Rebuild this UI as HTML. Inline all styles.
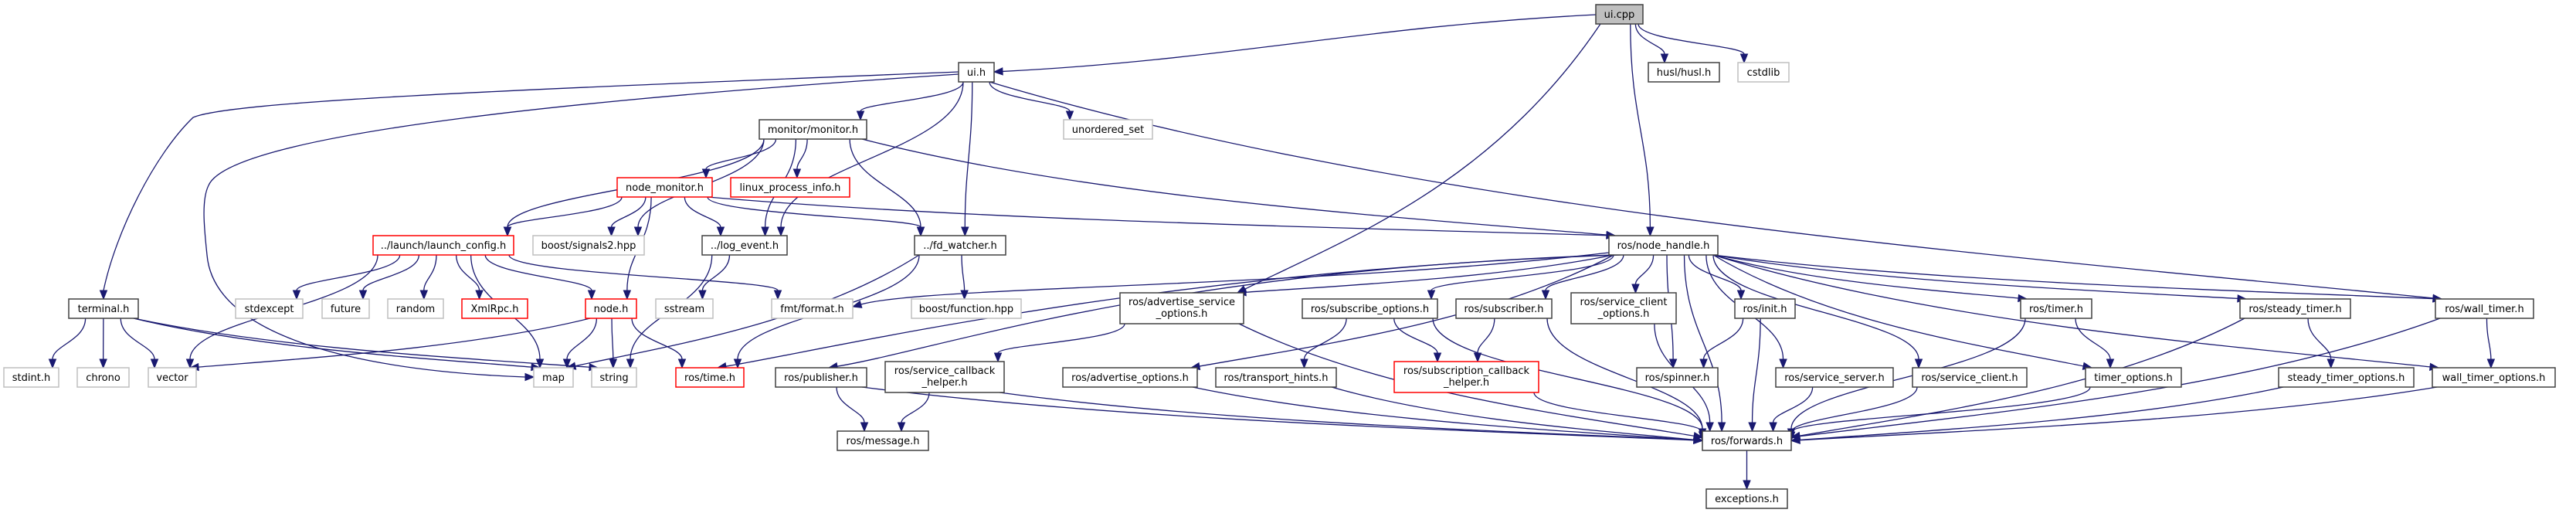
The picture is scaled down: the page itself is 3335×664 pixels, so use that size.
<!DOCTYPE html>
<html><head><meta charset="utf-8"><style>
html,body{margin:0;padding:0;background:#fff;}
svg{display:block;}
text{font-family:"DejaVu Sans","Liberation Sans",sans-serif;font-size:13px;fill:#000;text-anchor:middle;}
</style></head><body>
<svg id="g" width="3335" height="664" viewBox="0 0 3335 664" xmlns="http://www.w3.org/2000/svg">
<g id="edges" fill="none" stroke="#191970" stroke-width="1.3"></g>
<g id="heads" fill="#191970" stroke="#191970"></g>
<g id="nodes" stroke-width="1.5">
<rect x="2066" y="6" width="61" height="25" fill="#bfbfbf" stroke="#404040"/><text x="2096.5" y="23">ui.cpp</text>
<rect x="1241" y="81" width="46" height="25" fill="#fff" stroke="#404040"/><text x="1264" y="98">ui.h</text>
<rect x="2134" y="81" width="92" height="25" fill="#fff" stroke="#404040"/><text x="2180" y="98">husl/husl.h</text>
<rect x="2250" y="81" width="66" height="25" fill="#fff" stroke="#bfbfbf"/><text x="2283" y="98">cstdlib</text>
<rect x="983" y="155" width="139" height="25" fill="#fff" stroke="#404040"/><text x="1052.5" y="172">monitor/monitor.h</text>
<rect x="1377" y="155" width="115" height="25" fill="#fff" stroke="#bfbfbf"/><text x="1434.5" y="172">unordered_set</text>
<rect x="799" y="230" width="123" height="25" fill="#fff" stroke="#ff0000"/><text x="860.5" y="247">node_monitor.h</text>
<rect x="946" y="230" width="154" height="25" fill="#fff" stroke="#ff0000"/><text x="1023" y="247">linux_process_info.h</text>
<rect x="483" y="305" width="182" height="25" fill="#fff" stroke="#ff0000"/><text x="574" y="322">../launch/launch_config.h</text>
<rect x="690" y="305" width="144" height="25" fill="#fff" stroke="#bfbfbf"/><text x="762" y="322">boost/signals2.hpp</text>
<rect x="909" y="305" width="110" height="25" fill="#fff" stroke="#404040"/><text x="964" y="322">../log_event.h</text>
<rect x="1184" y="305" width="118" height="25" fill="#fff" stroke="#404040"/><text x="1243" y="322">../fd_watcher.h</text>
<rect x="2083" y="305" width="141" height="25" fill="#fff" stroke="#404040"/><text x="2153.5" y="322">ros/node_handle.h</text>
<rect x="89" y="387" width="90" height="25" fill="#fff" stroke="#404040"/><text x="134" y="404">terminal.h</text>
<rect x="305" y="387" width="87" height="25" fill="#fff" stroke="#bfbfbf"/><text x="348.5" y="404">stdexcept</text>
<rect x="417" y="387" width="61" height="25" fill="#fff" stroke="#bfbfbf"/><text x="447.5" y="404">future</text>
<rect x="502" y="387" width="72" height="25" fill="#fff" stroke="#bfbfbf"/><text x="538" y="404">random</text>
<rect x="598" y="387" width="85" height="25" fill="#fff" stroke="#ff0000"/><text x="640.5" y="404">XmlRpc.h</text>
<rect x="758" y="387" width="66" height="25" fill="#fff" stroke="#ff0000"/><text x="791" y="404">node.h</text>
<rect x="849" y="387" width="74" height="25" fill="#fff" stroke="#bfbfbf"/><text x="886" y="404">sstream</text>
<rect x="999" y="387" width="105" height="25" fill="#fff" stroke="#bfbfbf"/><text x="1051.5" y="404">fmt/format.h</text>
<rect x="1180" y="387" width="142" height="25" fill="#fff" stroke="#bfbfbf"/><text x="1251" y="404">boost/function.hpp</text>
<rect x="1450" y="379" width="160" height="40" fill="#fff" stroke="#404040"/><text x="1530" y="395">ros/advertise_service</text><text x="1530" y="410">_options.h</text>
<rect x="1686" y="387" width="175" height="25" fill="#fff" stroke="#404040"/><text x="1773.5" y="404">ros/subscribe_options.h</text>
<rect x="1885" y="387" width="124" height="25" fill="#fff" stroke="#404040"/><text x="1947" y="404">ros/subscriber.h</text>
<rect x="2034" y="379" width="136" height="40" fill="#fff" stroke="#404040"/><text x="2102" y="395">ros/service_client</text><text x="2102" y="410">_options.h</text>
<rect x="2246" y="387" width="78" height="25" fill="#fff" stroke="#404040"/><text x="2285" y="404">ros/init.h</text>
<rect x="2616" y="387" width="92" height="25" fill="#fff" stroke="#404040"/><text x="2662" y="404">ros/timer.h</text>
<rect x="2900" y="387" width="143" height="25" fill="#fff" stroke="#404040"/><text x="2971.5" y="404">ros/steady_timer.h</text>
<rect x="3153" y="387" width="127" height="25" fill="#fff" stroke="#404040"/><text x="3216.5" y="404">ros/wall_timer.h</text>
<rect x="5" y="476" width="71" height="25" fill="#fff" stroke="#bfbfbf"/><text x="40.5" y="493">stdint.h</text>
<rect x="100" y="476" width="67" height="25" fill="#fff" stroke="#bfbfbf"/><text x="133.5" y="493">chrono</text>
<rect x="192" y="476" width="62" height="25" fill="#fff" stroke="#bfbfbf"/><text x="223" y="493">vector</text>
<rect x="691" y="476" width="51" height="25" fill="#fff" stroke="#bfbfbf"/><text x="716.5" y="493">map</text>
<rect x="766" y="476" width="58" height="25" fill="#fff" stroke="#bfbfbf"/><text x="795" y="493">string</text>
<rect x="875" y="476" width="88" height="25" fill="#fff" stroke="#ff0000"/><text x="919" y="493">ros/time.h</text>
<rect x="1004" y="476" width="118" height="25" fill="#fff" stroke="#404040"/><text x="1063" y="493">ros/publisher.h</text>
<rect x="1146" y="468" width="154" height="40" fill="#fff" stroke="#404040"/><text x="1223" y="484">ros/service_callback</text><text x="1223" y="499">_helper.h</text>
<rect x="1376" y="476" width="174" height="25" fill="#fff" stroke="#404040"/><text x="1463" y="493">ros/advertise_options.h</text>
<rect x="1574" y="476" width="156" height="25" fill="#fff" stroke="#404040"/><text x="1652" y="493">ros/transport_hints.h</text>
<rect x="1805" y="468" width="187" height="40" fill="#fff" stroke="#ff0000"/><text x="1898.5" y="484">ros/subscription_callback</text><text x="1898.5" y="499">_helper.h</text>
<rect x="2119" y="476" width="105" height="25" fill="#fff" stroke="#404040"/><text x="2171.5" y="493">ros/spinner.h</text>
<rect x="2299" y="476" width="152" height="25" fill="#fff" stroke="#404040"/><text x="2375" y="493">ros/service_server.h</text>
<rect x="2476" y="476" width="148" height="25" fill="#fff" stroke="#404040"/><text x="2550" y="493">ros/service_client.h</text>
<rect x="2700" y="476" width="124" height="25" fill="#fff" stroke="#404040"/><text x="2762" y="493">timer_options.h</text>
<rect x="2950" y="476" width="175" height="25" fill="#fff" stroke="#404040"/><text x="3037.5" y="493">steady_timer_options.h</text>
<rect x="3149" y="476" width="159" height="25" fill="#fff" stroke="#404040"/><text x="3228.5" y="493">wall_timer_options.h</text>
<rect x="1084" y="558" width="118" height="25" fill="#fff" stroke="#404040"/><text x="1143" y="575">ros/message.h</text>
<rect x="2204" y="558" width="115" height="25" fill="#fff" stroke="#404040"/><text x="2261.5" y="575">ros/forwards.h</text>
<rect x="2209" y="633" width="105" height="25" fill="#fff" stroke="#404040"/><text x="2261.5" y="650">exceptions.h</text>
</g>
</svg>
<script>
var N={
cpp:[2066,6,61,25],uih:[1241,81,46,25],husl:[2134,81,92,25],cstd:[2250,81,66,25],
mon:[983,155,139,25],uset:[1377,155,115,25],nmon:[799,230,123,25],lpi:[946,230,154,25],
lc:[483,305,182,25],sig:[690,305,144,25],log:[909,305,110,25],fdw:[1184,305,118,25],nh:[2083,305,141,25],
term:[89,387,90,25],stde:[305,387,87,25],fut:[417,387,61,25],rnd:[502,387,72,25],xml:[598,387,85,25],node:[758,387,66,25],
sst:[849,387,74,25],fmt:[999,387,105,25],bfun:[1180,387,142,25],aso:[1450,379,160,40],subo:[1686,387,175,25],sub:[1885,387,124,25],
sco:[2034,379,136,40],init:[2246,387,78,25],tim:[2616,387,92,25],stim:[2900,387,143,25],wtim:[3153,387,127,25],
si:[5,476,71,25],chr:[100,476,67,25],vec:[192,476,62,25],map:[691,476,51,25],str:[766,476,58,25],time:[875,476,88,25],
pub:[1004,476,118,25],sch:[1146,468,154,40],ao:[1376,476,174,25],th:[1574,476,156,25],scbh:[1805,468,187,40],spin:[2119,476,105,25],
ss:[2299,476,152,25],sc:[2476,476,148,25],to:[2700,476,124,25],sto:[2950,476,175,25],wto:[3149,476,159,25],
msg:[1084,558,118,25],fwd:[2204,558,115,25],exc:[2209,633,105,25]};
var E=[["cpp","uih"],["cpp","husl"],["cpp","cstd"],["cpp","nh"],["cpp","aso"],
["uih","term"],["uih","map"],["uih","mon"],["uih","uset"],["uih","log"],["uih","fdw"],["uih","wtim"],
["mon","lc"],["mon","sig"],["mon","nmon"],["mon","lpi"],["mon","log"],["mon","fdw"],["mon","nh"],
["nmon","lc"],["nmon","sig"],["nmon","log"],["nmon","fdw"],["nmon","node"],["nmon","nh"],
["lc","vec"],["lc","stde"],["lc","fut"],["lc","rnd"],["lc","xml"],["lc","node"],["lc","map"],["lc","fmt"],
["term","si"],["term","chr"],["term","vec"],["term","map"],["term","str"],
["node","vec"],["node","map"],["node","str"],["node","time"],
["log","sst"],["log","str"],["fdw","bfun"],["fdw","time"],["fdw","map"],
["nh","fmt"],["nh","aso"],["nh","ao"],["nh","subo"],["nh","sub"],["nh","sco"],["nh","init"],["nh","spin"],["nh","ss"],["nh","sc"],
["nh","tim"],["nh","to"],["nh","stim"],["nh","wtim"],["nh","wto"],["nh","fwd"],["nh","pub"],["nh","time"],
["aso","sch"],["aso","fwd"],["pub","msg"],["pub","fwd"],["sch","msg"],["sch","fwd"],["ao","fwd"],
["subo","th"],["subo","scbh"],["subo","fwd"],["sub","scbh"],["sub","fwd"],["sco","fwd"],["init","spin"],["init","fwd"],
["th","fwd"],["scbh","fwd"],["ss","fwd"],["sc","fwd"],["tim","to"],["tim","fwd"],["to","fwd"],
["stim","sto"],["stim","fwd"],["sto","fwd"],["wtim","wto"],["wtim","fwd"],["wto","fwd"],["fwd","exc"]];
var ed=document.getElementById("edges"),hd=document.getElementById("heads"),ns="http://www.w3.org/2000/svg";
function cl(v,a,b){return Math.max(a,Math.min(b,v));}
E.forEach(function(e){
 var s=N[e[0]],t=N[e[1]],k=e[0]+">"+e[1];
 var scx=s[0]+s[2]/2,tcx=t[0]+t[2]/2;
 var x1,y1,x2,y2,c1x,c1y,c2x,c2y;
 if(k=="cpp>uih"){x1=s[0];y1=s[1]+13;x2=t[0]+t[2];y2=t[1]+12;c1x=x1-300;c1y=y1+15;c2x=x2+300;c2y=y2-15;}
 else if(k=="uih>term"){x1=s[0];y1=s[1]+12;x2=tcx;y2=t[1];c1x=400;c1y=110;c2x=180;c2y=180;c1x=300;c1y=140;c2x=170;c2y=230;
   var p0=document.createElementNS(ns,"path");p0.setAttribute("d","M"+x1+","+y1+" C700,115 300,130 250,152 C200,200 150,300 "+x2+","+(y2-11));ed.appendChild(p0);
   var h0=document.createElementNS(ns,"polygon");h0.setAttribute("points",x2+","+y2+" "+(x2-4.5)+","+(y2-11)+" "+(x2+4.5)+","+(y2-11));hd.appendChild(h0);return;}
 else if(k=="uih>map"){x1=s[0];y1=s[1]+15;
   var p1=document.createElementNS(ns,"path");p1.setAttribute("d","M"+x1+","+y1+" C800,125 300,170 270,240 C260,260 265,300 268,330 C280,470 600,485 680,488");ed.appendChild(p1);
   var h1=document.createElementNS(ns,"polygon");h1.setAttribute("points","691,488 680,483.5 680,492.5");hd.appendChild(h1);return;}
 else if(k=="nh>fmt"){x1=s[0];y1=s[1]+22;x2=t[0]+t[2];y2=t[1]+10;c1x=1700;c1y=372;c2x=1200;c2y=370;}
 else if(k=="nh>pub"||k=="nh>time"){x1=s[0]+(k=="nh>pub"?5:15);y1=s[1]+s[3];x2=tcx+(k=="nh>pub"?10:10);y2=t[1];c1x=1500;c1y=350;c2x=x2+150;c2y=y2-25;}
 else{
  x1=scx+cl((tcx-scx)*0.25,-s[2]/2+6,s[2]/2-6);y1=s[1]+s[3];
  if(e[1]=="fwd"&&Math.abs(tcx-scx)>250){x2=tcx<scx?t[0]+t[2]:t[0];y2=t[1]+12+cl((s[1]-470)*0.05,-4,4);}
  else{x2=tcx+cl((scx-tcx)*0.3,-t[2]/2+8,t[2]/2-8);y2=t[1];}
  var dy=y2-y1;
  c1x=x1;c1y=y1+dy*0.45;c2x=x2;c2y=y2-dy*0.45;
  if(Math.abs(x2-x1)>400){c1x=x1+(x2-x1)*0.3;c2x=x2-(x2-x1)*0.3;c1y=y1+dy*0.6;c2y=y2-dy*0.2;}
 }
 var dx=x2-c2x,dyy=y2-c2y,L=Math.sqrt(dx*dx+dyy*dyy)||1;dx/=L;dyy/=L;
 var bx=x2-dx*11,by=y2-dyy*11;
 var p=document.createElementNS(ns,"path");
 p.setAttribute("d","M"+x1+","+y1+" C"+c1x+","+c1y+" "+c2x+","+c2y+" "+bx+","+by);ed.appendChild(p);
 var h=document.createElementNS(ns,"polygon");
 h.setAttribute("points",x2+","+y2+" "+(bx-dyy*4.5)+","+(by+dx*4.5)+" "+(bx+dyy*4.5)+","+(by-dx*4.5));hd.appendChild(h);
});
</script>
</body></html>
